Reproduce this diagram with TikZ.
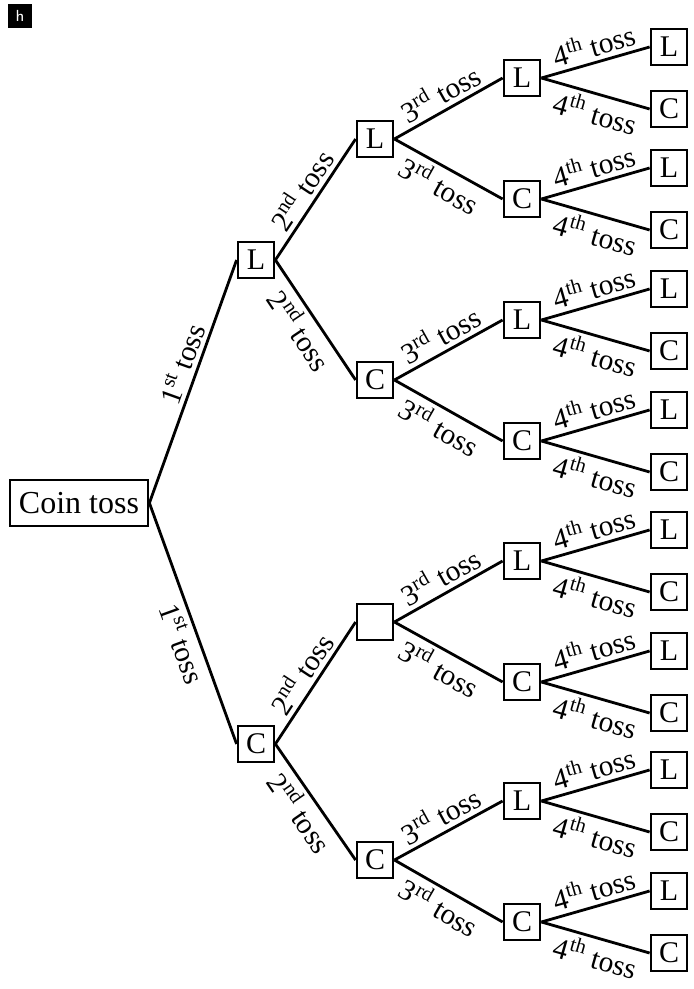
\documentclass[tikz,border=0pt]{standalone}
\usepackage{fontspec}
\setmainfont{Liberation Serif}

\begin{document}
\begin{tikzpicture}[x=0.5pt, y=-0.5pt, line width=1.4pt,
  box/.style={draw, rectangle, minimum size=18pt, inner sep=0pt, font=\fontsize{15}{17}\selectfont},
  lbl/.style={sloped, midway, inner sep=2pt, font=\fontsize{14.7}{16}\selectfont}]
  \useasboundingbox (0,0) rectangle (694,989);

  % badge in the corner
  \node[fill=black, text=white, minimum size=12pt, inner sep=0pt, font=\sffamily\footnotesize] (badge) at (20,16) {h};

  % root and first two levels
  \node[box, minimum width=69pt, minimum height=23pt, font=\fontsize{16}{18}\selectfont] (root) at (79,503) {Coin toss};
  \node[box] (n1) at (256,260) {L};
  \node[box] (n2) at (256,744) {C};
  \draw (root.east) -- node[lbl, pos=0.55, above] {1\textsuperscript{st} toss} (n1.west);
  \draw (root.east) -- node[lbl, pos=0.56, below] {1\textsuperscript{st} toss} (n2.west);

  \node[box] (n11) at (375,139) {L};
  \node[box] (n12) at (375,380) {C};
  \node[box] (n21) at (375,622) {};
  \node[box] (n22) at (375,860) {C};
  \foreach \p in {1,2} {
    \draw (n\p.east) -- node[lbl, above] {2\textsuperscript{nd} toss} (n\p1.west);
    \draw (n\p.east) -- node[lbl, below] {2\textsuperscript{nd} toss} (n\p2.west);
  }

  % third toss
  \foreach \p/\y in {11/78, 12/320, 21/561, 22/801} {
    \node[box] (n\p1) at (522,\y) {L};
    \node[box] (n\p2) at (522,\y+121) {C};
    \draw (n\p.east) -- node[lbl, above] {3\textsuperscript{rd} toss} (n\p1.west);
    \draw (n\p.east) -- node[lbl, below] {3\textsuperscript{rd} toss} (n\p2.west);
  }

  % fourth toss
  \foreach \q/\y in {111/78, 112/199, 121/320, 122/441, 211/561, 212/682, 221/801, 222/922} {
    \node[box] (n\q1) at (669,\y-31) {L};
    \node[box] (n\q2) at (669,\y+31) {C};
    \draw (n\q.east) -- node[lbl, pos=0.53, above] {4\textsuperscript{th} toss} (n\q1.west);
    \draw (n\q.east) -- node[lbl, pos=0.55, below] {4\textsuperscript{th} toss} (n\q2.west);
  }
\end{tikzpicture}
\end{document}
